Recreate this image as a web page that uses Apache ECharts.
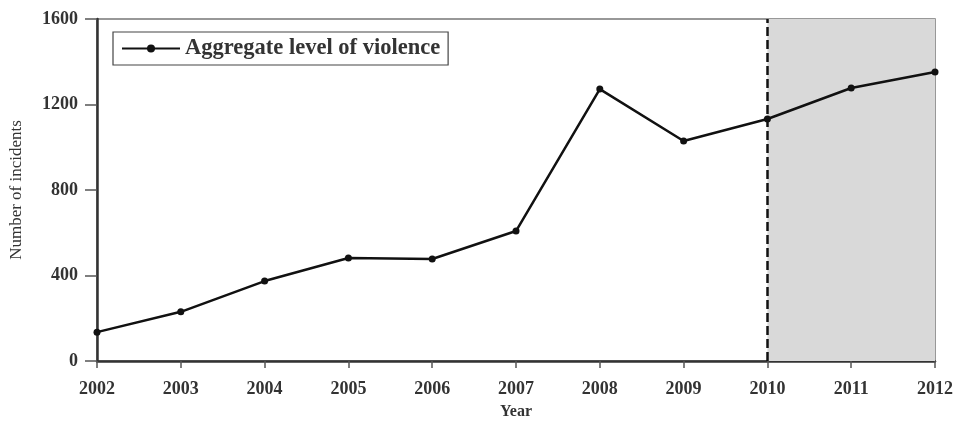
<!DOCTYPE html>
<html><head><meta charset="utf-8">
<script src="https://cdn.jsdelivr.net/npm/echarts@6/dist/echarts.min.js"></script>
<style>html,body{margin:0;padding:0;background:#fff}#c{width:958px;height:421px}</style>
</head><body><div id="c"></div>
<script>
const years = ['2002','2003','2004','2005','2006','2007','2008','2009','2010','2011','2012'];
const violence = [135, 230, 374, 482, 477, 608, 1272, 1029, 1132, 1277, 1352];
const yTicks = [0, 400, 800, 1200, 1600];
const shadeStart = '2010', shadeEnd = '2012';
const F = '"Liberation Serif", "DejaVu Serif", serif';
const chart = echarts.init(document.getElementById('c'));
chart.setOption({
  animation: false,
  backgroundColor: '#fff',
  grid: {left: 97, right: 23, top: 19, bottom: 60, outerBoundsMode: 'none', containLabel: false,
         show: true, borderColor: '#777', borderWidth: 1.5},
  legend: {
    left: 113, top: 32, padding: [5, 8, 5, 8],
    borderColor: '#444', borderWidth: 1.2,
    itemWidth: 58, itemHeight: 10, itemGap: 10,
    textStyle: {fontFamily: F, fontSize: 22.5, fontWeight: 'bold', color: '#333'},
    data: ['Aggregate level of violence']
  },
  xAxis: {
    type: 'category', data: years, boundaryGap: false,
    name: 'Year', nameLocation: 'middle', nameGap: 43,
    nameTextStyle: {fontFamily: F, fontSize: 16, fontWeight: 'bold', color: '#333'},
    axisLine: {lineStyle: {color: '#333', width: 2.5}},
    axisTick: {length: 7, lineStyle: {color: '#555', width: 1.5}},
    axisLabel: {fontFamily: F, fontSize: 18, fontWeight: 'bold', color: '#333', margin: 19},
    splitLine: {show: false}
  },
  yAxis: {
    type: 'value', min: yTicks[0], max: yTicks[yTicks.length-1], interval: 400,
    name: 'Number of incidents', nameLocation: 'middle', nameGap: 72,
    nameTextStyle: {fontFamily: F, fontSize: 17, color: '#333'},
    axisLine: {show: true, lineStyle: {color: '#333', width: 2.5}},
    axisTick: {show: true, length: 12, lineStyle: {color: '#555', width: 1.5}},
    axisLabel: {fontFamily: F, fontSize: 18, fontWeight: 'bold', color: '#333', margin: 19,
                formatter: v => String(v)},
    splitLine: {show: false}
  },
  series: [{
    name: 'Aggregate level of violence',
    type: 'line', data: violence,
    symbol: 'circle', symbolSize: 7,
    lineStyle: {color: '#111', width: 2.5},
    itemStyle: {color: '#111'},
    z: 5,
    markArea: {
      silent: true,
      itemStyle: {color: '#d9d9d9'},
      data: [[{xAxis: shadeStart}, {xAxis: shadeEnd}]]
    },
    markLine: {
      silent: true, symbol: 'none', label: {show: false},
      lineStyle: {color: '#111', type: [9, 4], width: 2.5},
      data: [{xAxis: shadeStart}]
    }
  }]
});
</script></body></html>
